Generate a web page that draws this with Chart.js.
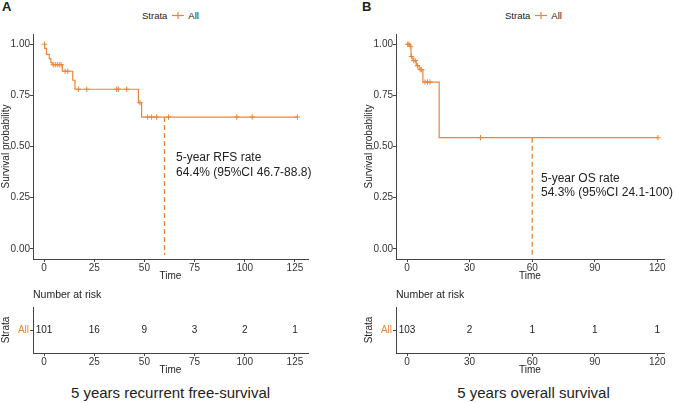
<!DOCTYPE html>
<html>
<head>
<meta charset="utf-8">
<script src="https://cdn.jsdelivr.net/npm/chart.js@4/dist/chart.umd.min.js"></script>
<style>
body { margin:0; width:674px; height:403px; background:#fff; position:relative; overflow:hidden;
  font-family:"Liberation Sans", Arial, sans-serif; color:#222; }
canvas { position:absolute; }
.txt { position:absolute; white-space:nowrap; line-height:14px; }
.panel { font-weight:bold; font-size:13px; }
.legend { position:absolute; font-size:9.5px; display:flex; align-items:center; height:12px; }
.legend svg { margin:0 4px 0 5px; }
.note { font-size:12px; }
.risk { font-size:10.5px; }
.title { font-size:15px; }
</style>
</head>
<body>

<div class="txt panel" style="left:2px;top:0px;">A</div>
<div class="txt panel" style="left:362px;top:0px;">B</div>

<div class="legend" style="left:142px;top:9px;">Strata<svg width="12" height="9"><line x1="0" y1="4.5" x2="12" y2="4.5" stroke="#ED8536" stroke-width="1.2"/><line x1="6" y1="1" x2="6" y2="8" stroke="#ED8536" stroke-width="1.2"/></svg>All</div>
<div class="legend" style="left:505px;top:9px;">Strata<svg width="12" height="9"><line x1="0" y1="4.5" x2="12" y2="4.5" stroke="#ED8536" stroke-width="1.2"/><line x1="6" y1="1" x2="6" y2="8" stroke="#ED8536" stroke-width="1.2"/></svg>All</div>

<canvas id="kmA" width="337" height="282" style="left:0;top:0;"></canvas>
<canvas id="kmB" width="311" height="282" style="left:363px;top:0;"></canvas>
<canvas id="riskA" width="337" height="76" style="left:0;top:300px;"></canvas>
<canvas id="riskB" width="311" height="76" style="left:363px;top:300px;"></canvas>

<div class="txt note" style="left:176px;top:150px;">5-year RFS rate</div>
<div class="txt note" style="left:176px;top:165px;">64.4% (95%CI 46.7-88.8)</div>
<div class="txt note" style="left:541px;top:171px;">5-year OS rate</div>
<div class="txt note" style="left:541px;top:185px;">54.3% (95%CI 24.1-100)</div>

<div class="txt risk" style="left:33px;top:287px;">Number at risk</div>
<div class="txt risk" style="left:396px;top:287px;">Number at risk</div>

<div class="txt title" style="left:0;width:341px;text-align:center;top:386px;">5 years recurrent free-survival</div>
<div class="txt title" style="left:396px;width:275px;text-align:center;top:386px;">5 years overall survival</div>

<script>
'use strict';

var orange = '#ED8536';

// panel A: recurrence free survival (step times and survival after each step)
var rfsTimes = [0, 0.3, 1.2, 2.6, 3.4, 4.1, 9.1, 14.3, 15.4, 47, 48.6, 126.2];
var rfsSurv = [1, 0.98, 0.95, 0.93, 0.91, 0.90, 0.868, 0.824, 0.78, 0.714, 0.644, 0.644];
var rfsCensorTimes = [0.2, 4.6, 5.6, 6.6, 7.6, 8.5, 10.5, 11.8, 17.1, 21.3, 36.2, 37, 41.2, 47.8, 51.6, 53.6, 56.1, 62, 96, 103.7, 126.2];
var rfsCensorSurv = [1, 0.90, 0.90, 0.90, 0.90, 0.90, 0.868, 0.868, 0.78, 0.78, 0.78, 0.78, 0.78, 0.714, 0.644, 0.644, 0.644, 0.644, 0.644, 0.644, 0.644];
var rfsRate = 0.644;
var rfsTicks = [0, 25, 50, 75, 100, 125];
var rfsAtRisk = [101, 16, 9, 3, 2, 1];

// panel B: overall survival
var osTimes = [0, 1.2, 1.9, 2.8, 4.4, 5.8, 7.6, 15.4, 120.3];
var osSurv = [1, 0.99, 0.94, 0.92, 0.895, 0.876, 0.815, 0.543, 0.543];
var osCensorTimes = [0.3, 0.9, 1.6, 2.1, 3.2, 3.9, 5.0, 6.3, 7.0, 8.6, 9.8, 11.0, 35.2, 120.3];
var osCensorSurv = [1, 1, 0.99, 0.94, 0.92, 0.92, 0.895, 0.876, 0.876, 0.815, 0.815, 0.815, 0.543, 0.543];
var osRate = 0.543;
var osTicks = [0, 30, 60, 90, 120];
var osAtRisk = [103, 2, 1, 1, 1];

var survTicks = [0, 0.25, 0.5, 0.75, 1];
var survTickLabels = ['0.00', '0.25', '0.50', '0.75', '1.00'];
var strata = ['All'];

Chart.defaults.font.family = '"Liberation Sans", Arial, sans-serif';
Chart.defaults.font.size = 10;
Chart.defaults.color = '#333';

function toPoints(xs, ys) {
  var pts = [];
  for (var i = 0; i < xs.length; i++) {
    pts.push({x: xs[i], y: ys[i]});
  }
  return pts;
}

function xScale(min, max, ticks) {
  return {
    type: 'linear', min: min, max: max,
    afterBuildTicks: function (s) { s.ticks = ticks.map(function (v) { return {value: v}; }); },
    afterFit: function (s) { s.height = 23; },
    grid: {display: true, drawOnChartArea: false, drawTicks: true, tickLength: 3, tickColor: '#444'},
    border: {display: true, color: '#444', width: 1},
    ticks: {padding: 0, color: '#333', maxRotation: 0, font: {size: 10}},
    title: {display: true, text: 'Time', color: '#222', padding: 0, font: {size: 10}}
  };
}

function drawKM(id, times, surv, cTimes, cSurv, rate, lineEnd, xMin, xMax, ticks, padRight) {
  new Chart(document.getElementById(id), {
    type: 'line',
    data: {
      datasets: [
        {data: toPoints(times, surv), stepped: 'before', borderColor: orange, borderWidth: 1.2, pointRadius: 0, fill: false},
        {data: toPoints(cTimes, cSurv), showLine: false, pointStyle: 'cross', pointRadius: 2.7, borderColor: orange, borderWidth: 1},
        {data: [{x: 60, y: rate}, {x: 60, y: lineEnd}], borderColor: orange, borderWidth: 1.3, borderDash: [5, 3], pointRadius: 0}
      ]
    },
    options: {
      responsive: false, animation: false,
      layout: {padding: {top: 34, right: padRight, left: 0, bottom: 0}},
      plugins: {legend: {display: false}, tooltip: {enabled: false}},
      scales: {
        x: xScale(xMin, xMax, ticks),
        y: {
          type: 'linear', min: -0.05, max: 1.05,
          afterBuildTicks: function (s) { s.ticks = survTicks.map(function (v) { return {value: v}; }); },
          afterFit: function (s) { s.width = 33; },
          grid: {display: true, drawOnChartArea: false, drawTicks: true, tickLength: 3, tickColor: '#444'},
          border: {display: true, color: '#444', width: 1},
          ticks: {padding: 0, color: '#333', font: {size: 10},
            callback: function (v, i) { return survTickLabels[i]; }},
          title: {display: true, text: 'Survival probability', color: '#222', padding: 0, font: {size: 10}}
        }
      }
    }
  });
}

var riskText = {
  id: 'riskText',
  afterDatasetsDraw: function (chart) {
    var ctx = chart.ctx;
    var meta = chart.getDatasetMeta(0);
    var ds = chart.data.datasets[0];
    ctx.save();
    ctx.font = '10px "Liberation Sans", Arial, sans-serif';
    ctx.fillStyle = '#222';
    ctx.textAlign = 'center';
    ctx.textBaseline = 'middle';
    meta.data.forEach(function (pt, i) {
      ctx.fillText(String(ds.data[i].n), pt.x, pt.y);
    });
    ctx.restore();
  }
};

function drawRisk(id, ticks, counts, xMin, xMax, padRight) {
  var pts = [];
  for (var i = 0; i < ticks.length; i++) {
    pts.push({x: ticks[i], y: strata[0], n: counts[i]});
  }
  new Chart(document.getElementById(id), {
    type: 'scatter',
    data: {datasets: [{data: pts, pointRadius: 0}]},
    options: {
      responsive: false, animation: false,
      layout: {padding: {top: 5, right: padRight, left: 0, bottom: 0}},
      plugins: {legend: {display: false}, tooltip: {enabled: false}},
      scales: {
        x: xScale(xMin, xMax, ticks),
        y: {
          type: 'category', labels: strata, offset: true,
          afterFit: function (s) { s.width = 33; },
          grid: {display: true, drawOnChartArea: false, drawTicks: true, tickLength: 3, tickColor: '#444', offset: false},
          border: {display: true, color: '#444', width: 1},
          ticks: {padding: 1, color: orange, font: {size: 10}},
          title: {display: true, text: 'Strata', color: '#222', padding: 0, font: {size: 10}}
        }
      }
    },
    plugins: [riskText]
  });
}

drawKM('kmA', rfsTimes, rfsSurv, rfsCensorTimes, rfsCensorSurv, rfsRate, -0.03, -5.5, 131.5, rfsTicks, 29);
drawKM('kmB', osTimes, osSurv, osCensorTimes, osCensorSurv, osRate, -0.045, -5.3, 123.2, osTicks, 10);
drawRisk('riskA', rfsTicks, rfsAtRisk, -5.5, 131.5, 29);
drawRisk('riskB', osTicks, osAtRisk, -5.3, 123.2, 10);
</script>
</body>
</html>
